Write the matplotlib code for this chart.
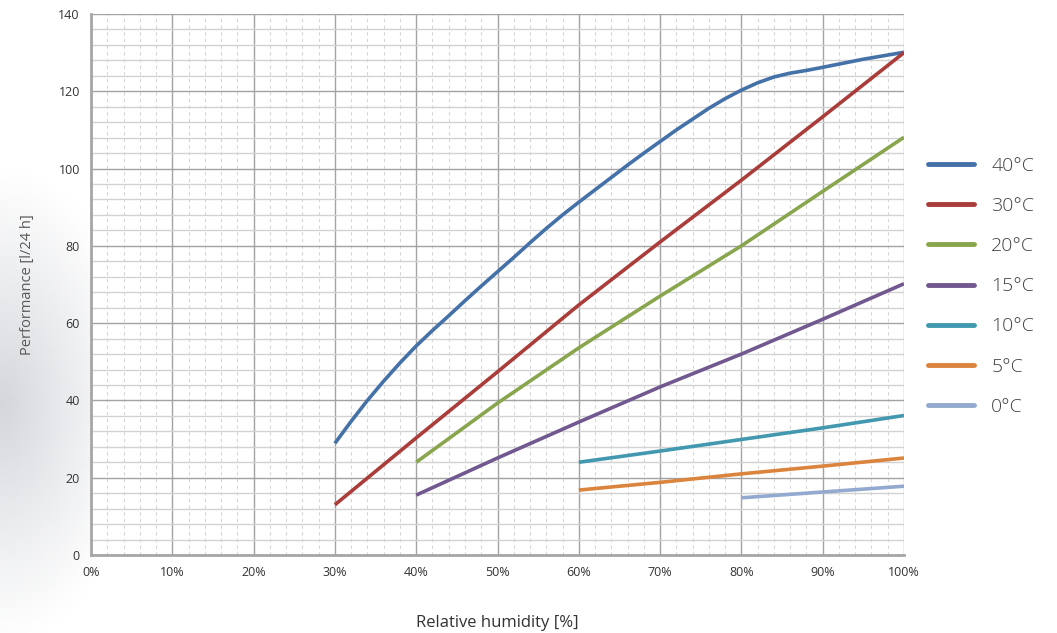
import numpy as np
import matplotlib
matplotlib.use('Agg')
import matplotlib.pyplot as plt
from matplotlib.ticker import MultipleLocator, FuncFormatter

plt.rcParams['font.family'] = ['Open Sans', 'DejaVu Sans']

# data
rh_40 = [30, 32, 34, 36, 38, 40, 42, 44, 46, 48, 50, 52, 54, 56, 58, 60, 62, 64, 66, 68,
         70, 72, 74, 76, 78, 80, 82, 84, 86, 88, 90, 95, 100]
perf_40 = [28.9, 34.6, 40.0, 45.0, 49.7, 54.1, 58.1, 61.9, 65.8, 69.6, 73.3, 77.0, 80.8, 84.5,
           88.0, 91.3, 94.5, 97.7, 100.9, 104.0, 107.0, 110.0, 112.8, 115.6, 118.1, 120.3,
           122.2, 123.7, 124.7, 125.4, 126.2, 128.3, 130.1]

rh_30 = [30, 40, 50, 60, 70, 80, 90, 100]
perf_30 = [13, 30.3, 47.4, 64.7, 81, 97, 113.4, 130]

rh_20 = [40, 50, 60, 70, 80, 90, 100]
perf_20 = [24, 39.3, 53.6, 67, 80, 94.1, 108.1]

rh_15 = [40, 50, 60, 70, 80, 90, 100]
perf_15 = [15.5, 25.1, 34.4, 43.5, 52, 61, 70.2]

rh_10 = [60, 70, 80, 90, 100]
perf_10 = [24, 26.9, 29.9, 32.9, 36.1]

rh_5 = [60, 70, 80, 90, 100]
perf_5 = [16.8, 18.8, 21, 23, 25.1]

rh_0 = [80, 90, 100]
perf_0 = [14.8, 16.3, 17.8]

labels = ['40°C', '30°C', '20°C', '15°C', '10°C', '5°C', '0°C']
colors = ['#4471a8', '#aa3d3a', '#89a54e', '#71588f', '#4198af', '#db843d', '#93a9cf']

series = [(rh_40, perf_40), (rh_30, perf_30), (rh_20, perf_20), (rh_15, perf_15),
          (rh_10, perf_10), (rh_5, perf_5), (rh_0, perf_0)]

fig = plt.figure(figsize=(10.57, 6.33), dpi=100)

# soft grey shading on the left side of the background
bg = fig.add_axes([0, 0, 1, 1], zorder=-10)
gx, gy = np.meshgrid(np.linspace(0, 1, 300), np.linspace(0, 1, 200))
dist = np.sqrt(((gx - 0.0) / 0.13) ** 2 + ((gy - 0.64) / 0.38) ** 2)
shade = np.clip(1 - dist, 0, 1) ** 1.1
img = np.ones((200, 300, 3))
for i, c in enumerate([0.83, 0.84, 0.86]):
    img[:, :, i] = 1 - (1 - c) * shade
bg.imshow(img, extent=[0, 1, 0, 1], aspect='auto', origin='upper')
bg.axis('off')

ax = fig.add_axes([91 / 1057, 78 / 633, 813 / 1057, 541 / 633])
ax.set_facecolor('white')

for (x, y), lab, col in zip(series, labels, colors):
    ax.plot(x, y, color=col, lw=2.6, label=lab, solid_capstyle='butt', solid_joinstyle='round')

ax.set_xlim(0, 100)
ax.set_ylim(0, 140)
ax.xaxis.set_major_locator(MultipleLocator(10))
ax.xaxis.set_minor_locator(MultipleLocator(2))
ax.yaxis.set_major_locator(MultipleLocator(20))
ax.yaxis.set_minor_locator(MultipleLocator(4))
ax.xaxis.set_major_formatter(FuncFormatter(lambda v, p: f'{int(v)}%'))

ax.grid(which='major', color='#a3a3a3', lw=1.0)
ax.grid(which='minor', axis='y', color='#d2d2d2', lw=1.0)
ax.grid(which='minor', axis='x', color='#d6d6d6', lw=0.8, ls=(0, (3, 3)))
ax.set_axisbelow(True)

for s in ['top', 'right']:
    ax.spines[s].set_visible(False)
for s in ['left', 'bottom']:
    ax.spines[s].set_color('#a6a6a6')
    ax.spines[s].set_linewidth(2)

ax.tick_params(which='both', length=0, labelsize=9, colors='#333333', pad=8)

ax.set_ylabel('Performance [l/24 h]', fontsize=10.5, color='#595959', labelpad=17)
ax.set_xlabel('Relative humidity [%]', fontsize=12, color='#333333', labelpad=26)

ax.legend(loc='upper left', bbox_to_anchor=(1.0295, 0.736), frameon=False,
          prop=dict(family=['Open Sans', 'DejaVu Sans'], weight='light', size=14),
          handlelength=2.36, handletextpad=0.9, labelspacing=1.14,
          borderpad=0, borderaxespad=0, labelcolor='#404040')
for lh in ax.get_legend().get_lines():
    lh.set_linewidth(3.5)
    lh.set_solid_capstyle('round')

fig.savefig('out.png', dpi=100)
